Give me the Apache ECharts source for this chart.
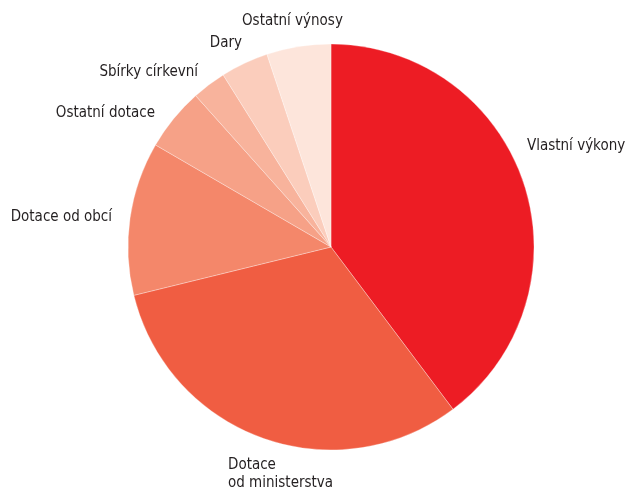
<!DOCTYPE html>
<html>
<head>
<meta charset="utf-8">
<script src="https://cdn.jsdelivr.net/npm/echarts@6/dist/echarts.min.js"></script>
<style>html,body{margin:0;padding:0;background:#fff}#c{width:625px;height:489px}</style>
</head>
<body>
<div id="c"></div>
<script>
const categories = ['Vlastní výkony', 'Dotace\nod ministerstva', 'Dotace od obcí', 'Ostatní dotace', 'Sbírky církevní', 'Dary', 'Ostatní výnosy'];
const values = [39.7, 31.4, 12.2, 5.0, 2.7, 3.8, 5.1];

const colors = ['#ED1C24', '#F05D42', '#F4876A', '#F6A187', '#F8B39C', '#FBCDBC', '#FDE5DB'];
const labelAnchors = [
  { x: 527, y: 146, align: 'left' },
  { x: 228, y: 474, align: 'left' },
  { x: 112, y: 217, align: 'right' },
  { x: 155, y: 113, align: 'right' },
  { x: 198, y: 72, align: 'right' },
  { x: 242, y: 43, align: 'right' },
  { x: 242, y: 21, align: 'left' }
];

const chart = echarts.init(document.getElementById('c'), null, { renderer: 'canvas' });
chart.setOption({
  animation: false,
  backgroundColor: '#fff',
  series: [{
    type: 'pie',
    center: [331, 247],
    radius: 203,
    startAngle: 90,
    clockwise: true,
    avoidLabelOverlap: false,
    data: categories.map((c, i) => ({ name: c, value: values[i], itemStyle: { color: colors[i] } })),
    itemStyle: { borderColor: 'rgba(255,255,255,0.5)', borderWidth: 0.6 },
    label: {
      show: true,
      position: 'outside',
      formatter: '{b}',
      fontFamily: "'DejaVu Sans Condensed', Roboto, sans-serif",
      fontSize: 15,
      lineHeight: 18,
      color: '#231f20'
    },
    labelLine: { show: false },
    labelLayout: function (p) {
      const a = labelAnchors[p.dataIndex];
      return { x: a.x, y: a.y, align: a.align, verticalAlign: 'middle', hideOverlap: false };
    }
  }]
});
</script>
</body>
</html>
